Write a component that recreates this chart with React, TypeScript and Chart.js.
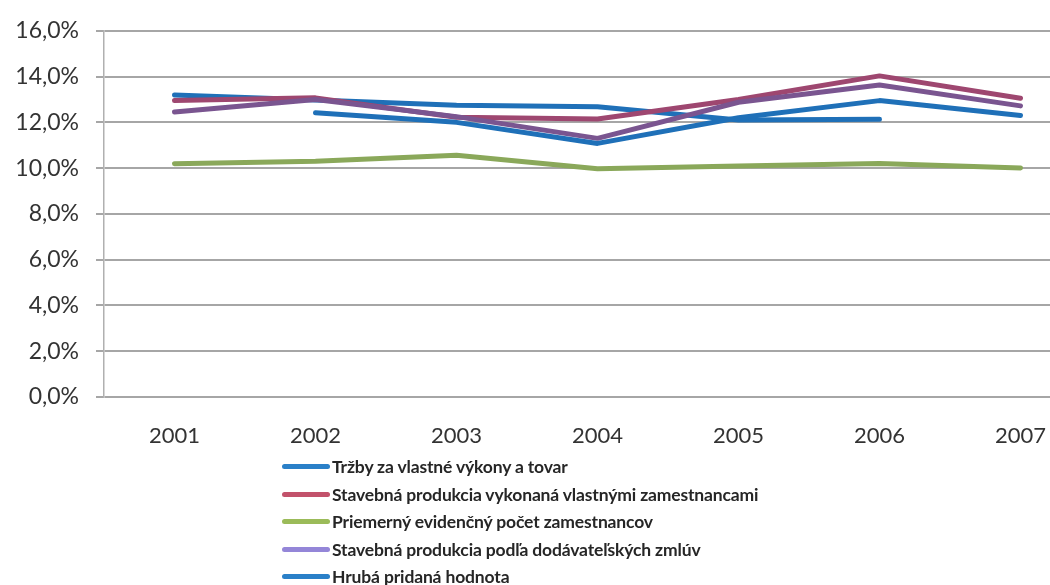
import React, { useEffect, useRef } from "react";
import { Chart, registerables } from "chart.js";

Chart.register(...registerables);

const categories = ["2001", "2002", "2003", "2004", "2005", "2006", "2007"];

const trzby = [13.2, 12.98, 12.75, 12.68, 12.1, 12.13, null];
const vlastnymi = [12.95, 13.07, 12.22, 12.15, 13.0, 14.03, 13.05];
const zamestnanci = [10.19, 10.3, 10.56, 9.97, 10.09, 10.2, 10.01];
const dodavatelske = [12.45, 13.0, 12.25, 11.3, 12.88, 13.63, 12.72];
const hruba = [null, 12.42, 12.0, 11.08, 12.2, 12.95, 12.3];

const seriesNames = [
  "Tržby za vlastné výkony a tovar",
  "Stavebná produkcia vykonaná vlastnými zamestnancami",
  "Priemerný evidenčný počet zamestnancov",
  "Stavebná produkcia podľa dodávateľských zmlúv",
  "Hrubá pridaná hodnota",
];
const lineColors = ["#1f70b8", "#9e4770", "#8aa85a", "#7a5590", "#1f70b8"];
const legendColors = ["#2a80c8", "#c2526b", "#9bbb59", "#9486d8", "#2a80c8"];

const yMin = 0;
const yMax = 16;
const yStep = 2;

export default function App() {
  const ref = useRef<HTMLCanvasElement | null>(null);

  useEffect(() => {
    if (!ref.current) return;
    const values = [trzby, vlastnymi, zamestnanci, dodavatelske, hruba];
    const chart = new Chart(ref.current, {
      type: "line",
      data: {
        labels: categories,
        datasets: values.map((v, i) => ({
          label: seriesNames[i],
          data: v,
          borderColor: lineColors[i],
          backgroundColor: lineColors[i],
          borderWidth: 5,
          pointRadius: 0,
          tension: 0,
          spanGaps: false,
          borderCapStyle: "round" as const,
          borderJoinStyle: "round" as const,
          order: values.length - i,
        })),
      },
      options: {
        animation: false,
        responsive: false,
        maintainAspectRatio: false,
        layout: { padding: { top: 25, right: 4, left: 0, bottom: 0 } },
        plugins: { legend: { display: false }, tooltip: { enabled: false } },
        scales: {
          x: {
            offset: true,
            grid: { display: false, drawTicks: false, tickLength: 0 },
            border: { display: false },
            ticks: {
              padding: 26,
              color: "#333333",
              font: { family: "Lato", size: 22 },
              maxRotation: 0,
            },
            afterFit: (s: any) => {
              s.height = 63;
            },
          },
          y: {
            min: yMin,
            max: yMax,
            grid: { color: "#a6a6a6", lineWidth: 2, drawTicks: true, tickLength: 8, tickColor: "#a6a6a6" },
            border: { display: true, color: "#b0b0b0", width: 1.5 },
            ticks: {
              stepSize: yStep,
              padding: 17,
              color: "#333333",
              font: { family: "Lato", size: 23 },
              callback: (v: any) => Number(v).toFixed(1).replace(".", ",") + "%",
            },
            afterFit: (s: any) => {
              s.width = 104;
            },
          },
        },
      },
    });
    return () => chart.destroy();
  }, []);

  return (
    <div
      style={{
        position: "fixed",
        left: 0,
        top: 0,
        width: 1050,
        height: 585,
        overflow: "hidden",
        background: "#fff",
      }}
    >
      <canvas ref={ref} width={1095} height={460} style={{ position: "absolute", left: 0, top: 0 }} />
      <div style={{ position: "absolute", left: 282, top: 453 }}>
        {seriesNames.map((n, i) => (
          <div
            key={n}
            style={{
              display: "flex",
              alignItems: "center",
              height: 27.5,
              fontFamily: "Lato",
              fontWeight: 700,
              fontSize: 17.5,
              letterSpacing: -0.15,
              color: "#262626",
              whiteSpace: "nowrap",
            }}
          >
            <span
              style={{
                display: "inline-block",
                width: 48,
                height: 5,
                borderRadius: 3,
                background: legendColors[i],
                marginRight: 2,
              }}
            />
            <span>{n}</span>
          </div>
        ))}
      </div>
    </div>
  );
}
